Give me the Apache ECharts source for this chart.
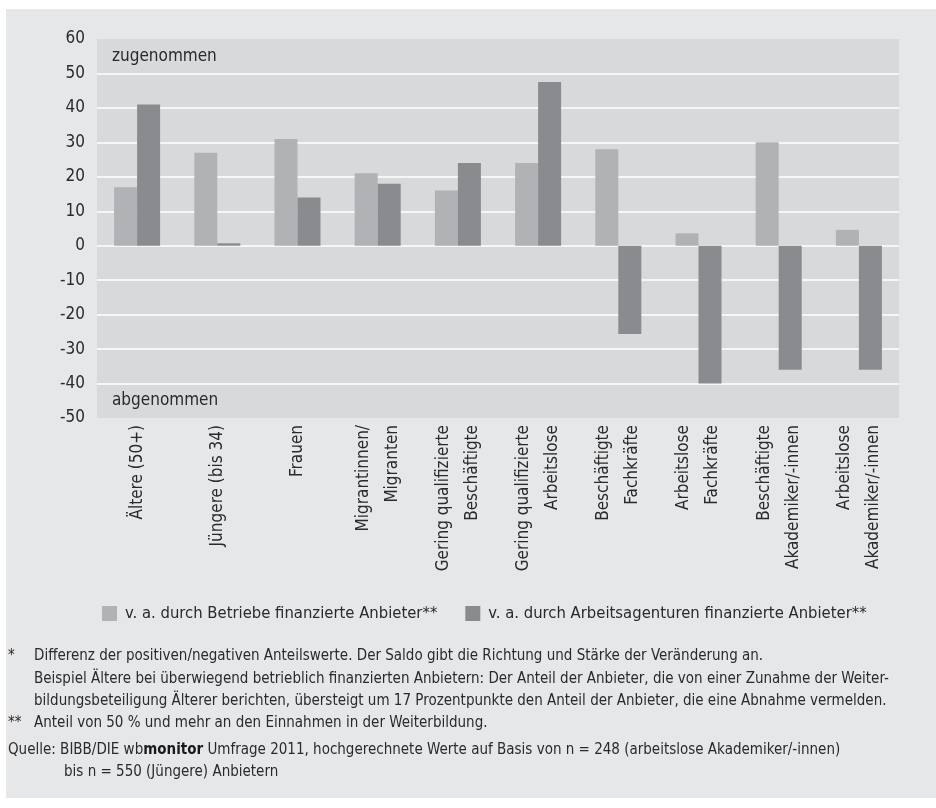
<!DOCTYPE html>
<html>
<head>
<meta charset="utf-8">
<script src="https://cdn.jsdelivr.net/npm/echarts@6/dist/echarts.min.js"></script>
<style>
  html, body { margin: 0; padding: 0; background: #ffffff; }
  #frame { position: absolute; left: 6px; top: 9px; width: 930px; height: 789px; background: #e6e7e9; }
  #chart { position: absolute; left: 0; top: 0; width: 936px; height: 808px; }
</style>
</head>
<body>
<div id="frame"></div>
<div id="chart"></div>
<script>
// Saldo der Veränderung der Weiterbildungsbeteiligung nach Zielgruppen
const categories = [
  'Ältere (50+)',
  'Jüngere (bis 34)',
  'Frauen',
  'Migrantinnen/\nMigranten',
  'Gering qualifizierte\nBeschäftigte',
  'Gering qualifizierte\nArbeitslose',
  'Beschäftigte\nFachkräfte',
  'Arbeitslose\nFachkräfte',
  'Beschäftigte\nAkademiker/-innen',
  'Arbeitslose\nAkademiker/-innen'
];
const seriesNames = [
  'v. a. durch Betriebe finanzierte Anbieter**',
  'v. a. durch Arbeitsagenturen finanzierte Anbieter**'
];
const betriebe = [17, 27, 31, 21, 16, 24, 28, 3.6, 30, 4.6];
const arbeitsagenturen = [41, 0.7, 14, 18, 24, 47.5, -25.6, -40, -36, -36];
const yTicks = { min: -50, max: 60, interval: 10 };

const footnotes = [
  { mark: '*', text: 'Differenz der positiven/negativen Anteilswerte. Der Saldo gibt die Richtung und Stärke der Veränderung an.' },
  { mark: '', text: 'Beispiel Ältere bei überwiegend betrieblich finanzierten Anbietern: Der Anteil der Anbieter, die von einer Zunahme der Weiter-' },
  { mark: '', text: 'bildungsbeteiligung Älterer berichten, übersteigt um 17 Prozentpunkte den Anteil der Anbieter, die eine Abnahme vermelden.' },
  { mark: '**', text: 'Anteil von 50 % und mehr an den Einnahmen in der Weiterbildung.' }
];

const FONT = '"Liberation Sans Narrow", "DejaVu Sans Condensed", "Arial Narrow", sans-serif';
const TEXT = '#2a2a2a';
const NOTE_SIZE = 15;

const chart = echarts.init(document.getElementById('chart'), null, { renderer: 'canvas' });

const footY = [656, 679, 701, 723];
const graphics = [
  { type: 'text', left: 112, top: 48, style: { text: 'zugenommen', font: '17px ' + FONT, fill: TEXT } },
  { type: 'text', left: 112, top: 392, style: { text: 'abgenommen', font: '17px ' + FONT, fill: TEXT } }
];
footnotes.forEach((f, i) => {
  if (f.mark) {
    graphics.push({ type: 'text', x: 8, y: footY[i], style: { text: f.mark, font: NOTE_SIZE + 'px ' + FONT, fill: TEXT, textVerticalAlign: 'middle' } });
  }
  graphics.push({ type: 'text', x: 34, y: footY[i], style: { text: f.text, font: NOTE_SIZE + 'px ' + FONT, fill: TEXT, textVerticalAlign: 'middle' } });
});
graphics.push({
  type: 'text', x: 8, y: 750,
  style: {
    text: 'Quelle: BIBB/DIE wb{b|monitor} Umfrage 2011, hochgerechnete Werte auf Basis von n = 248 (arbeitslose Akademiker/-innen)',
    font: NOTE_SIZE + 'px ' + FONT, fill: TEXT, textVerticalAlign: 'middle',
    rich: { b: { fontWeight: 'bold', fontSize: NOTE_SIZE, fontFamily: FONT, fill: '#1a1a1a' } }
  }
});
graphics.push({
  type: 'text', x: 64, y: 772,
  style: { text: 'bis n = 550 (Jüngere) Anbietern', font: NOTE_SIZE + 'px ' + FONT, fill: TEXT, textVerticalAlign: 'middle' }
});

chart.setOption({
  animation: false,
  backgroundColor: 'transparent',
  textStyle: { fontFamily: FONT, color: TEXT },
  grid: {
    left: 97, right: 37, top: 39, bottom: 390,
    show: true, backgroundColor: '#d8d9db', borderWidth: 0
  },
  legend: {
    left: 97, top: 600,
    itemWidth: 15, itemHeight: 15, itemGap: 28,
    icon: 'rect',
    textStyle: { fontFamily: FONT, fontSize: 16.5, color: TEXT, padding: [0, 0, 0, 3] },
    data: seriesNames
  },
  xAxis: {
    type: 'category',
    data: categories,
    axisLine: { show: false },
    axisTick: { show: false },
    axisLabel: {
      rotate: 90, interval: 0, margin: 7,
      fontFamily: FONT, fontSize: 17, color: TEXT, lineHeight: 29
    }
  },
  yAxis: {
    type: 'value',
    min: yTicks.min, max: yTicks.max, interval: yTicks.interval,
    axisLine: { show: false },
    axisTick: { show: false },
    axisLabel: { margin: 12, fontFamily: FONT, fontSize: 17, color: TEXT },
    splitLine: { show: true, showMinLine: false, showMaxLine: false, lineStyle: { color: '#ffffff', width: 1.6 } }
  },
  series: [
    {
      name: seriesNames[0], type: 'bar', data: betriebe,
      barWidth: 23, barGap: '0%',
      itemStyle: { color: '#b1b2b5' }
    },
    {
      name: seriesNames[1], type: 'bar', data: arbeitsagenturen,
      barWidth: 23, barGap: '0%',
      itemStyle: { color: '#8a8b8e' }
    }
  ],
  graphic: graphics
});
</script>
</body>
</html>
